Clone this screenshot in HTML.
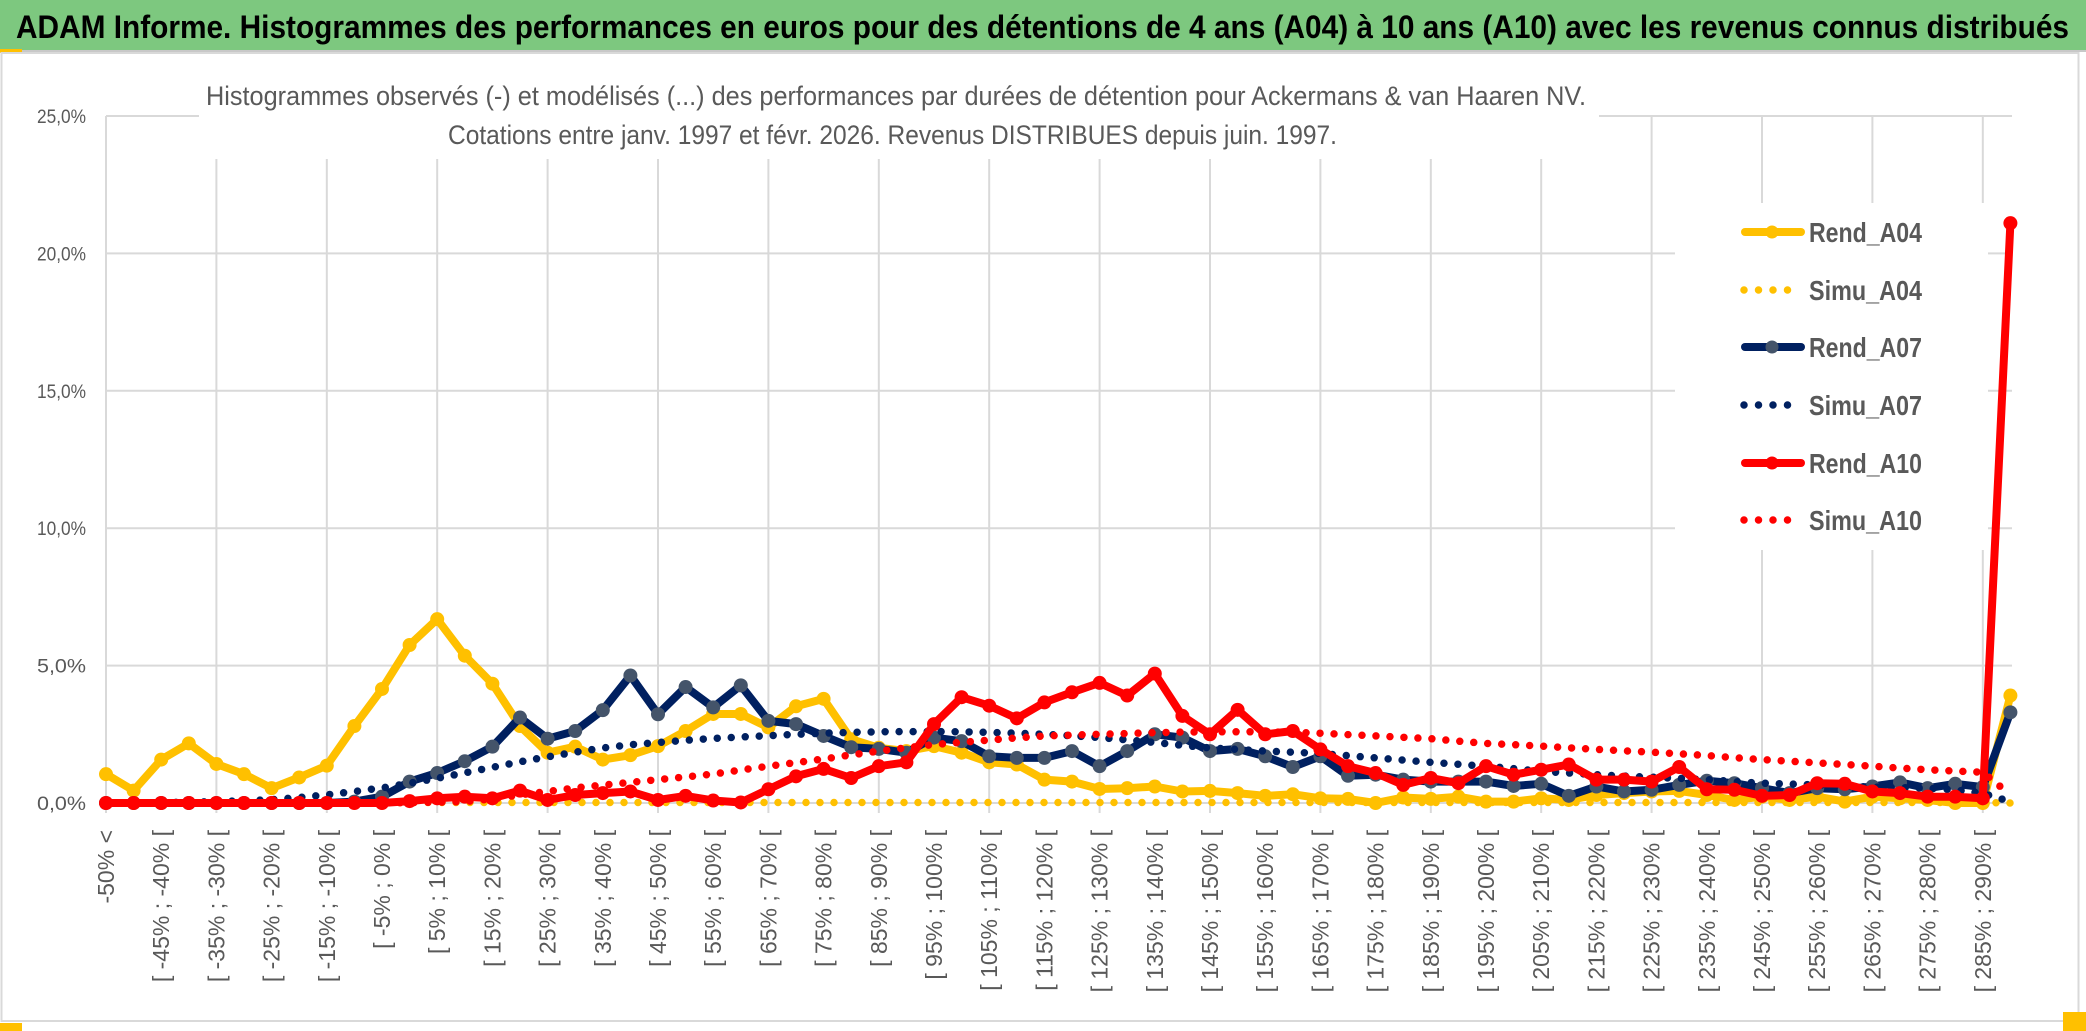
<!DOCTYPE html>
<html><head><meta charset="utf-8"><style>
html,body{margin:0;padding:0;background:#fff;}
svg{display:block;font-family:"Liberation Sans",sans-serif;}
</style></head><body>
<svg id="chart" width="2086" height="1031" viewBox="0 0 2086 1031" xmlns="http://www.w3.org/2000/svg">
<rect x="0" y="0" width="2086" height="1031" fill="#fff"/>
<rect x="0" y="0" width="2086" height="50" fill="#7DC87F"/>
<line x1="0" y1="51" x2="2086" y2="51" stroke="#c8c8c8" stroke-width="2"/>
<rect x="0" y="49" width="22" height="4" fill="#FFC000"/>
<text x="16" y="38" font-size="32" font-weight="bold" fill="#000" textLength="2053" lengthAdjust="spacingAndGlyphs">ADAM Informe. Histogrammes des performances en euros pour des détentions de 4 ans (A04) à 10 ans (A10) avec les revenus connus distribués</text>
<rect x="1.5" y="53" width="2077" height="968" fill="none" stroke="#d9d9d9" stroke-width="2"/>
<rect x="0" y="1023" width="22" height="8" fill="#FFC000"/>
<rect x="2063" y="1012" width="23" height="19" fill="#FFC000"/>
<g id="grid"></g>
<g id="axes"></g>
<rect x="199" y="78" width="1400" height="81" fill="#fff"/>
<text x="206" y="105" font-size="27" fill="#595959" textLength="1380" lengthAdjust="spacingAndGlyphs">Histogrammes observés (-) et modélisés (...) des performances par durées de détention pour Ackermans &amp; van Haaren NV.</text>
<text x="448" y="144" font-size="27" fill="#595959" textLength="889" lengthAdjust="spacingAndGlyphs">Cotations entre janv. 1997 et févr. 2026. Revenus DISTRIBUES depuis juin. 1997.</text>
<g id="series"></g>
<rect x="1675" y="203" width="313" height="347" fill="#fff"/>
<g id="legend"></g>
</svg>
<script>
const NS="http://www.w3.org/2000/svg";
const yTicks=[0,5,10,15,20,25];
const yTickLabels=["0,0%","5,0%","10,0%","15,0%","20,0%","25,0%"];
const categories=["-50% <"];
for(let k=1;k<=68;k++){categories.push("[ "+(-55+5*k)+"% ; "+(-50+5*k)+"% [");}
categories.push(">= 290%");
const seriesNames=["Rend_A04","Simu_A04","Rend_A07","Simu_A07","Rend_A10","Simu_A10"];
const rendA04=[1.05,0.45,1.58,2.17,1.42,1.05,0.54,0.93,1.36,2.8,4.15,5.75,6.69,5.36,4.34,2.8,1.83,2.05,1.58,1.74,2.07,2.62,3.24,3.24,2.75,3.52,3.79,2.32,2.01,1.89,2.07,1.83,1.48,1.4,0.85,0.78,0.51,0.54,0.6,0.42,0.44,0.36,0.26,0.32,0.17,0.15,0.0,0.2,0.15,0.23,0.05,0.05,0.17,0.11,0.29,0.36,0.42,0.44,0.29,0.11,0.23,0.11,0.23,0.05,0.23,0.17,0.11,0.0,0.0,3.91];
const simuA04=[0,0,0,0,0,0,0,0,0,0,0.01,0.02,0.02,0.02,0.02,0.02,0.02,0.02,0.02,0.02,0.02,0.02,0.02,0.02,0.02,0.02,0.02,0.02,0.02,0.02,0.02,0.02,0.02,0.02,0.02,0.02,0.02,0.02,0.02,0.02,0.02,0.02,0.02,0.02,0.02,0.02,0.02,0.02,0.02,0.02,0.02,0.02,0.02,0.02,0.02,0.02,0.02,0.02,0.02,0.02,0.02,0.02,0.02,0.02,0.02,0.02,0.02,0.02,0.02,0];
const rendA07=[0,0,0,0,0,0,0,0,0,0.05,0.23,0.78,1.09,1.52,2.05,3.11,2.34,2.62,3.38,4.64,3.23,4.22,3.48,4.28,2.99,2.87,2.44,2.03,1.97,1.83,2.38,2.25,1.7,1.64,1.64,1.89,1.34,1.89,2.5,2.38,1.89,1.97,1.7,1.31,1.7,0.99,1.03,0.85,0.78,0.78,0.78,0.62,0.7,0.26,0.6,0.42,0.48,0.66,0.81,0.72,0.54,0.36,0.54,0.5,0.6,0.75,0.54,0.7,0.58,3.3];
const simuA07=[0,0,0.02,0.03,0.05,0.08,0.12,0.2,0.3,0.42,0.55,0.72,0.9,1.1,1.3,1.5,1.68,1.85,2.0,2.12,2.2,2.28,2.35,2.4,2.45,2.5,2.54,2.57,2.59,2.6,2.6,2.59,2.57,2.54,2.5,2.45,2.38,2.3,2.2,2.1,2.0,1.95,1.89,1.85,1.8,1.72,1.64,1.56,1.48,1.41,1.34,1.25,1.15,1.09,1.03,0.98,0.94,0.9,0.85,0.78,0.72,0.69,0.66,0.62,0.58,0.56,0.54,0.48,0.35,0.05];
const rendA10=[0,0,0,0,0,0,0,0,0,0,0,0.07,0.17,0.23,0.17,0.45,0.11,0.29,0.36,0.42,0.11,0.26,0.09,0.02,0.5,0.97,1.24,0.91,1.34,1.48,2.87,3.85,3.54,3.08,3.66,4.03,4.37,3.91,4.71,3.17,2.5,3.39,2.5,2.62,1.95,1.34,1.09,0.66,0.91,0.72,1.34,1.03,1.21,1.4,0.85,0.85,0.78,1.31,0.5,0.48,0.26,0.29,0.72,0.7,0.42,0.36,0.23,0.23,0.17,21.1];
const simuA10=[0,0,0,0,0,0,0,0,0,0,0,0.02,0.03,0.05,0.15,0.3,0.42,0.55,0.65,0.75,0.85,0.95,1.05,1.2,1.34,1.47,1.6,1.75,1.89,2.01,2.13,2.21,2.29,2.37,2.44,2.47,2.5,2.53,2.56,2.58,2.59,2.59,2.59,2.57,2.54,2.49,2.44,2.39,2.34,2.25,2.17,2.12,2.07,2.01,1.95,1.9,1.85,1.79,1.73,1.65,1.58,1.52,1.46,1.4,1.34,1.27,1.21,1.16,1.12,0.3];

const X0=106, DX=27.6, Y0=803, Y25=116, XR=2012;
function xPos(i){return X0+i*DX;}
function yPos(v){return Y0-(v/25)*(Y0-Y25);}
function mk(tag,attrs,parent){const e=document.createElementNS(NS,tag);for(const k in attrs)e.setAttribute(k,attrs[k]);parent.appendChild(e);return e;}

const grid=document.getElementById('grid');
yTicks.forEach((t,j)=>{
  const l=mk('line',{x1:X0,x2:XR,y1:yPos(t),y2:yPos(t),stroke:'#d9d9d9','stroke-width':2},grid);
  
  
});
for(let i=0;i<categories.length;i+=4){
  const l=mk('line',{x1:xPos(i),x2:xPos(i),y1:Y25,y2:Y0+10,stroke:'#d9d9d9','stroke-width':2},grid);
  
  
}
const axes=document.getElementById('axes');
yTicks.forEach((t,j)=>{
  const tx=mk('text',{x:86,y:yPos(t)+7,'font-size':19,fill:'#595959','text-anchor':'end',textLength:(yTickLabels[j].length>5?59:49),lengthAdjust:'spacingAndGlyphs'},axes);
  tx.textContent=yTickLabels[j];
  
  
});
for(let i=0;i<categories.length-1;i+=2){
  const cx=xPos(i)+8;
  const tx=mk('text',{x:cx,y:830,'font-size':23,fill:'#595959','text-anchor':'end',transform:'rotate(-90 '+cx+' 830)'},axes);
  tx.textContent=categories[i];
  
  
}

const seriesLayer=document.getElementById('series');
const defs=[
 {name:'rend-a04',data:rendA04,color:'#FFC000',marker:'#FFC000',dotted:false},
 {name:'simu-a04',data:simuA04,color:'#FFC000',dotted:true},
 {name:'rend-a07',data:rendA07,color:'#002060',marker:'#44546A',dotted:false},
 {name:'simu-a07',data:simuA07,color:'#002060',dotted:true},
 {name:'rend-a10',data:rendA10,color:'#FF0000',marker:'#FF0000',dotted:false},
 {name:'simu-a10',data:simuA10,color:'#FF0000',dotted:true}
];
defs.forEach(s=>{
  const g=mk('g',{},seriesLayer);
  
  
  const pts=s.data.map((v,i)=>xPos(i).toFixed(1)+','+yPos(v).toFixed(1)).join(' ');
  const pl=mk('polyline',{points:pts,fill:'none',stroke:s.color,'stroke-width':s.dotted?7.5:8,'stroke-linejoin':'round','stroke-linecap':'round'},g);
  if(s.dotted){pl.setAttribute('stroke-dasharray','0 14');}
  
  
  if(!s.dotted){
    s.data.forEach((v,i)=>{
      const c=mk('circle',{cx:xPos(i),cy:yPos(v),r:7,fill:s.marker},g);
      
      
    });
  }
});

const legend=document.getElementById('legend');
const legendY=[232,290,347,405,463,520];
defs.forEach((s,j)=>{
  const y=legendY[j];
  const g=mk('g',{},legend);
  
  
  if(s.dotted){
    const l=mk('line',{x1:1744,x2:(j===5?1801:1792),y1:y,y2:y,stroke:s.color,'stroke-width':7.5,'stroke-linecap':'round','stroke-dasharray':'0 14.5'},g);
    
    
  } else {
    const l=mk('line',{x1:1745,x2:1801,y1:y,y2:y,stroke:s.color,'stroke-width':8,'stroke-linecap':'round'},g);
    
    
    const c=mk('circle',{cx:1772,cy:y,r:6.5,fill:s.marker},g);
    
    
  }
  const t=mk('text',{x:1809,y:y+10,'font-size':28,'font-weight':'bold',fill:'#595959',textLength:113,lengthAdjust:'spacingAndGlyphs'},g);
  t.textContent=seriesNames[j];
  
  
});
</script>
</body></html>
